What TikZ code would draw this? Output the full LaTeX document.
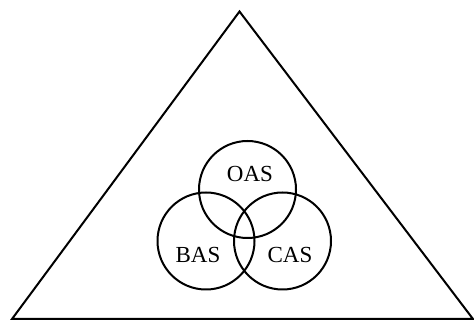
\documentclass[tikz,border=0pt]{standalone}
\usepackage{fontspec}
\setmainfont{Liberation Serif}
\begin{document}
\begin{tikzpicture}[x=1pt,y=1pt,
  edge/.style={line width=2pt, line join=miter},
  setcircle/.style={circle, draw, line width=2pt, minimum size=97pt, inner sep=0pt},
  lbl/.style={font=\fontsize{23}{26}\selectfont, inner sep=0pt}]
\useasboundingbox (0,0) rectangle (474,321);
\coordinate (apex) at (239.5,309.5);
\coordinate (bl) at (12,2);
\coordinate (br) at (473,2);
\draw[edge] (apex) -- (bl) -- (br) -- cycle;
\node[setcircle] (oas) at (247.5,131.5) {};
\node[setcircle] (bas) at (206,80) {};
\node[setcircle] (cas) at (282.5,80) {};
\node[lbl] (toas) at (250,147) {OAS};
\node[lbl] (tbas) at (198,66) {BAS};
\node[lbl] (tcas) at (290,66) {CAS};
\end{tikzpicture}
\end{document}
